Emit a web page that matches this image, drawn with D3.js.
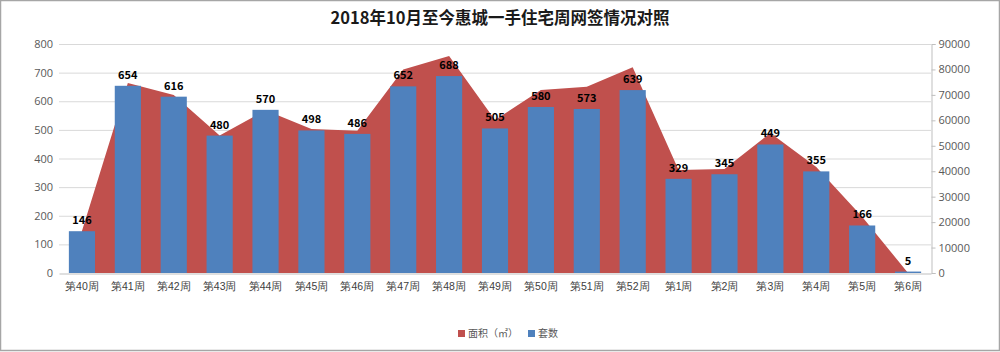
<!DOCTYPE html>
<html>
<head>
<meta charset="utf-8">
<script src="https://cdn.jsdelivr.net/npm/d3@7"></script>
<style>
  body { margin: 0; background: #fff; }
  svg { display: block; font-family: "Noto Sans CJK SC", "Noto Sans", sans-serif; }
</style>
</head>
<body>
<svg id="chart"></svg>
<script>
// weeks since Oct 2018
var weeks = ["第40周","第41周","第42周","第43周","第44周","第45周","第46周","第47周","第48周","第49周","第50周","第51周","第52周","第1周","第2周","第3周","第4周","第5周","第6周"]
// 套数 (left axis, bars)
var units = [146,654,616,480,570,498,486,652,688,505,580,573,639,329,345,449,355,166,5]
// 面积 m2 (right axis, area)
var area = [16500,74700,70000,54000,64000,56600,55900,80000,85300,60100,71900,73200,80900,40500,40900,55000,41700,22100,0]
var leftTicks = [0,100,200,300,400,500,600,700,800]
var rightTicks = [0,10000,20000,30000,40000,50000,60000,70000,80000,90000]

var width = 1000, height = 352
var svg = d3.select("#chart").attr("width", width).attr("height", height)

// frame
svg.append("rect").attr("x", 0.5).attr("y", 0.5).attr("width", width - 1).attr("height", height - 2)
    .attr("fill", "#fff").attr("stroke", "#a6a6a6").attr("stroke-width", 1.5)

var x = d3.scaleBand().domain(weeks).range([59, 931]).paddingInner(0.43).paddingOuter(0.215)
var yL = d3.scaleLinear().domain([0, 800]).range([273, 44])
var yR = d3.scaleLinear().domain([0, 90000]).range([273, 44])
var cx = d => x(d) + x.bandwidth() / 2

// gridlines
svg.append("g").selectAll("line")
    .data(leftTicks.slice(1))
    .enter().append("line")
    .attr("x1", 59).attr("x2", 931)
    .attr("y1", d => yL(d) + 0.5).attr("y2", d => yL(d) + 0.5)
    .attr("stroke", "#d9d9d9")

// area 面积
var areaGen = d3.area()
    .x((d, i) => cx(weeks[i]))
    .y0(yR(0))
    .y1(d => yR(d))
svg.append("path")
    .datum(area)
    .attr("d", areaGen)
    .attr("fill", "#c0504d")

// bars 套数
svg.append("g").selectAll("rect")
    .data(units)
    .enter().append("rect")
    .attr("x", (d, i) => x(weeks[i]))
    .attr("y", d => yL(d))
    .attr("width", x.bandwidth())
    .attr("height", d => yL(0) - yL(d))
    .attr("fill", "#4f81bd")

// bar labels
svg.append("g").selectAll("text")
    .data(units)
    .enter().append("text")
    .attr("x", (d, i) => cx(weeks[i]))
    .attr("y", d => yL(d) - 7)
    .attr("text-anchor", "middle")
    .attr("font-size", 11)
    .attr("font-weight", "bold")
    .attr("fill", "#000")
    .text(d => d)

// left axis
var axL = svg.append("g").attr("transform", "translate(59,0)")
    .call(d3.axisLeft(yL).tickValues(leftTicks).tickSize(0).tickPadding(6))
axL.select(".domain").remove()
axL.selectAll("text").attr("font-size", 11).attr("fill", "#595959").attr("font-family", "Open Sans")

// right axis
var axR = svg.append("g").attr("transform", "translate(931.5,0)")
    .call(d3.axisRight(yR).tickValues(rightTicks).tickFormat(d3.format("d")).tickSize(4).tickPadding(3))
axR.select(".domain").attr("stroke", "#bfbfbf")
axR.selectAll(".tick line").attr("stroke", "#bfbfbf")
axR.selectAll("text").attr("font-size", 11).attr("fill", "#595959").attr("font-family", "Open Sans")

// bottom axis
var axB = svg.append("g").attr("transform", "translate(0,273.5)")
    .call(d3.axisBottom(x).tickSize(0).tickPadding(9))
axB.select(".domain").attr("stroke", "#bfbfbf")
axB.selectAll("text").attr("font-size", 10.5).attr("fill", "#404040")

// title
svg.append("text")
    .attr("x", 500).attr("y", 24)
    .attr("text-anchor", "middle")
    .attr("font-size", 16.5)
    .attr("font-weight", "bold")
    .attr("fill", "#1a1a1a")
    .text("2018年10月至今惠城一手住宅周网签情况对照")

// legend
var legend = [["面积（㎡）", "#c0504d"], ["套数", "#4f81bd"]]
var lg = svg.append("g").attr("transform", "translate(458,337)")
var lx = 0
legend.forEach(function (l) {
    lg.append("rect").attr("x", lx).attr("y", -7).attr("width", 7).attr("height", 7).attr("fill", l[1])
    var t = lg.append("text").attr("x", lx + 10).attr("y", 0)
        .attr("font-size", 10).attr("fill", "#595959").text(l[0])
    lx += 10 + t.node().getComputedTextLength() + 10
})
</script>
</body>
</html>
